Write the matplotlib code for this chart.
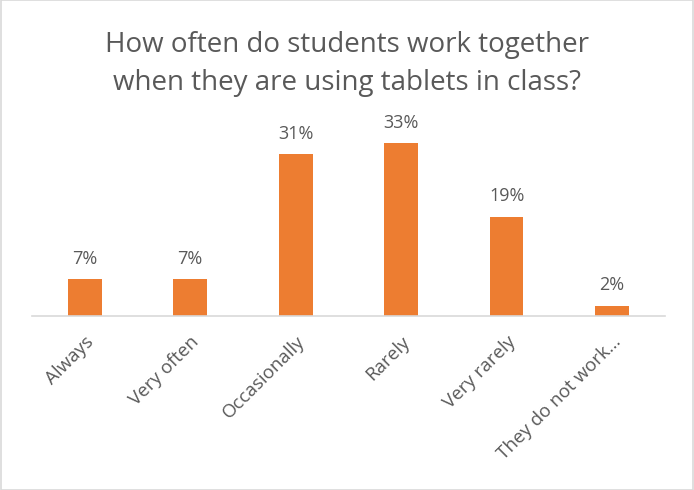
import matplotlib
matplotlib.use("Agg")
import matplotlib.pyplot as plt
from matplotlib.patches import Rectangle

categories = ["Always", "Very often", "Occasionally", "Rarely", "Very rarely", "They do not work\u2026"]
values = [7, 7, 31, 33, 19, 2]
title = "How often do students work together\nwhen they are using tablets in class?"

plt.rcParams["font.family"] = ["Open Sans", "DejaVu Sans"]
text_color = "#595959"
bar_color = "#ED7D31"

fig = plt.figure(figsize=(6.94, 4.90), dpi=100)
ax = fig.add_axes([0.046, 0.355, 0.912, 0.374])

x = list(range(len(categories)))
bars = ax.bar(x, values, width=0.32, color=bar_color, zorder=2)
ax.set_xlim(-0.5, len(categories) - 0.5)
ax.set_ylim(0, 35)

for xi, v in zip(x, values):
    ax.annotate(f"{v}%", (xi, v), xytext=(0, 8), textcoords="offset points",
                ha="center", va="bottom", fontsize=13, color=text_color)

for side in ["top", "right", "left"]:
    ax.spines[side].set_visible(False)
ax.spines["bottom"].set_color("#D9D9D9")
ax.spines["bottom"].set_linewidth(1.2)
ax.set_yticks([])
ax.set_xticks(x)
ax.set_xticklabels(categories, rotation=45, ha="right", rotation_mode="anchor",
                   fontsize=13.5, color=text_color)
ax.tick_params(axis="x", length=0, pad=12)

fig.text(0.5, 0.869, title, ha="center", va="center", fontsize=20,
         color=text_color, linespacing=1.45)

fig.patches.append(Rectangle((0.001, 0.001), 0.998, 0.998, transform=fig.transFigure,
                             fill=False, edgecolor="#D9D9D9", linewidth=1.2))

fig.savefig("out.png", dpi=100)
